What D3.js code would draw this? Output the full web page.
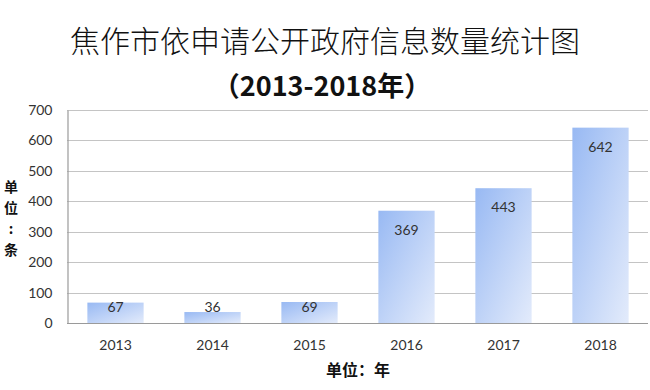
<!DOCTYPE html>
<html>
<head>
<meta charset="utf-8">
<script src="https://cdn.jsdelivr.net/npm/d3@7"></script>
<style>
  body { margin: 0; background: #fff; }
  svg { display: block; }
  text { fill: #333; }
</style>
</head>
<body>
<script>
  const years = ['2013', '2014', '2015', '2016', '2017', '2018'];
  const counts = [67, 36, 69, 369, 443, 642];
  const yTicks = [0, 100, 200, 300, 400, 500, 600, 700];

  const width = 650;
  const height = 390;
  const margin = { top: 110, right: 1, bottom: 67, left: 67 };
  const cjk = '"Noto Sans CJK SC", sans-serif';
  const num = 'Lato, "Open Sans", sans-serif';

  const svg = d3.select('body').append('svg')
    .attr('width', width)
    .attr('height', height);

  const defs = svg.append('defs');
  const grad = defs.append('linearGradient')
    .attr('id', 'barFill')
    .attr('x1', '0').attr('y1', '0')
    .attr('x2', '1').attr('y2', '1');
  grad.append('stop').attr('offset', '0%').attr('stop-color', '#98b9f3');
  grad.append('stop').attr('offset', '100%').attr('stop-color', '#e3ebfb');

  const x = d3.scaleBand()
    .domain(years)
    .range([margin.left, width - margin.right])
    .paddingInner(0.42)
    .paddingOuter(0.21);

  const y = d3.scaleLinear()
    .domain([0, 700])
    .range([height - margin.bottom, margin.top]);

  // gridlines
  svg.append('g')
    .selectAll('line')
    .data(yTicks.slice(1))
    .enter()
    .append('line')
    .attr('x1', margin.left)
    .attr('x2', width - 2)
    .attr('y1', d => Math.round(y(d)) + 0.5)
    .attr('y2', d => Math.round(y(d)) + 0.5)
    .attr('stroke', '#c4c4c4')
    .attr('stroke-width', 1.2);

  // y axis
  const yAxis = svg.append('g')
    .attr('transform', `translate(${margin.left + 0.5},0)`)
    .call(d3.axisLeft(y).tickValues(yTicks).tickSize(0).tickPadding(15));
  yAxis.select('.domain').attr('stroke', '#9a9a9a').attr('stroke-width', 1.2);
  yAxis.selectAll('text')
    .attr('font-family', num)
    .attr('font-size', 14)
    .style('fill', '#333');

  // bars
  svg.append('g')
    .selectAll('rect')
    .data(counts)
    .enter()
    .append('rect')
    .attr('x', (d, i) => x(years[i]))
    .attr('y', d => y(d))
    .attr('width', x.bandwidth())
    .attr('height', d => y(0) - y(d))
    .attr('fill', 'url(#barFill)');

  // value labels
  svg.append('g')
    .selectAll('text')
    .data(counts)
    .enter()
    .append('text')
    .attr('x', (d, i) => x(years[i]) + x.bandwidth() / 2)
    .attr('y', d => Math.min(y(d) + 24, y(0) - 11))
    .attr('text-anchor', 'middle')
    .attr('font-family', num)
    .attr('font-size', 14)
    .text(d => d);

  // x axis
  const xAxis = svg.append('g')
    .attr('transform', `translate(0,${y(0) + 0.5})`)
    .call(d3.axisBottom(x).tickSize(0).tickPadding(17));
  xAxis.select('.domain').attr('stroke', '#9a9a9a').attr('stroke-width', 1.2)
    .attr('d', `M${margin.left},0H${width - 2}`);
  xAxis.selectAll('text')
    .attr('font-family', num)
    .attr('font-size', 14)
    .style('fill', '#333');

  // titles
  svg.append('text')
    .attr('x', 325)
    .attr('y', 52)
    .attr('text-anchor', 'middle')
    .attr('font-family', cjk)
    .attr('font-weight', 300)
    .attr('font-size', 30)
    .style('fill', '#111')
    .text('焦作市依申请公开政府信息数量统计图');

  svg.append('text')
    .attr('x', 322)
    .attr('y', 96)
    .attr('text-anchor', 'middle')
    .attr('font-family', cjk)
    .attr('font-weight', 'bold')
    .attr('font-size', 27)
    .style('fill', '#111')
    .text('（2013-2018年）');

  // axis unit labels
  svg.append('text')
    .attr('x', 358)
    .attr('y', 376)
    .attr('text-anchor', 'middle')
    .attr('font-family', cjk)
    .attr('font-weight', 'bold')
    .attr('font-size', 16)
    .style('fill', '#111')
    .text('单位：年');

  svg.append('g')
    .selectAll('text')
    .data(['单', '位', '：', '条'])
    .enter()
    .append('text')
    .attr('x', 11)
    .attr('y', (d, i) => 192 + i * 21)
    .attr('text-anchor', 'middle')
    .attr('font-family', cjk)
    .attr('font-weight', 'bold')
    .attr('font-size', 14)
    .style('fill', '#111')
    .text(d => d === '：' ? ':' : d);
</script>
</body>
</html>
